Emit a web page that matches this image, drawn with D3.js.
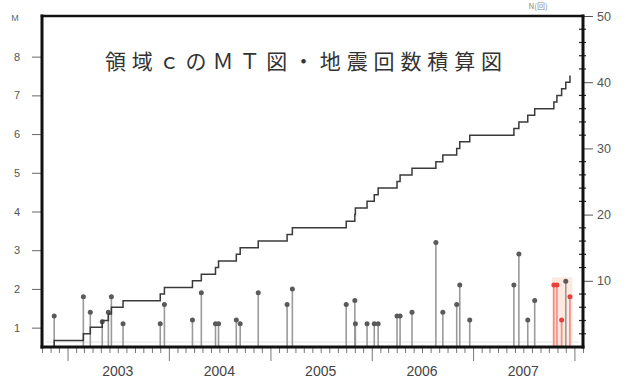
<!DOCTYPE html>
<html><head><meta charset="utf-8">
<script src="https://cdn.jsdelivr.net/npm/d3@7"></script>
<style>body{margin:0;background:#fff}svg{display:block}</style>
</head><body>
<svg id="c" width="626" height="384"></svg>
<script>
// ---- data ----
const eventDates = ["2002-11-14","2003-02-27","2003-03-24","2003-05-06","2003-05-28","2003-06-08","2003-07-20",
  "2003-12-01","2003-12-16","2004-03-26","2004-04-27","2004-06-17","2004-06-28","2004-08-31","2004-09-14",
  "2004-11-18","2005-03-02","2005-03-21","2005-10-01","2005-11-01","2005-11-03","2005-12-15","2006-01-10",
  "2006-01-24","2006-04-02","2006-04-13","2006-05-26","2006-08-20","2006-09-14","2006-11-03","2006-11-14",
  "2006-12-20","2007-05-28","2007-06-15","2007-07-17","2007-08-11","2007-10-19","2007-10-30","2007-11-16",
  "2007-12-01","2007-12-16"];
const magnitudes = [1.3,1.8,1.4,1.15,1.4,1.8,1.1,
  1.1,1.6,1.2,1.9,1.1,1.1,1.2,1.1,
  1.9,1.6,2.0,1.6,1.7,1.1,1.1,1.1,
  1.1,1.3,1.3,1.4,3.2,1.4,1.6,2.1,
  1.2,2.1,2.9,1.2,1.7,2.1,2.1,1.2,
  2.2,1.8];
const recentFlags = [0,0,0,0,0,0,0, 0,0,0,0,0,0,0,0, 0,0,0,0,0,0,0,0, 0,0,0,0,0,0,0,0,
  0,0,0,0,0,1,1,1, 0,1];
const magTicks = [1,2,3,4,5,6,7,8];
const countTicks = [10,20,30,40,50];
const yearLabels = ["2003","2004","2005","2006","2007"];
const titleText = "領域ｃのＭＴ図・地震回数積算図";
const highlightFrom = "2007-10-12";

// ---- layout ----
const L = 42, R = 583, T = 16, B = 347;
const svg = d3.select("#c");
const parse = d3.timeParse("%Y-%m-%d");
const x = d3.scaleTime().domain([new Date(2002,9,1), new Date(2008,1,1)]).range([L, R]);
const yM = d3.scaleLinear().domain([0.5, 9.05]).range([B, T]);
const yN = d3.scaleLinear().domain([0, 50]).range([B, T]);

const events = eventDates.map((d,i)=>({t:parse(d), m:magnitudes[i], n:i+1, red:recentFlags[i]===1}));

// highlight band
svg.append("rect").attr("x", x(parse(highlightFrom))).attr("y", yM(2.3))
  .attr("width", x(new Date(2007,11,25)) - x(parse(highlightFrom)))
  .attr("height", B - yM(2.3)).attr("fill", "#fde9df");

// faint base line
svg.append("line").attr("x1", L+4).attr("x2", R-4).attr("y1", B-5).attr("y2", B-5)
  .attr("stroke", "#e3e3e3").attr("stroke-width", 1);

// stems
const g = svg.append("g");
g.selectAll("line.stem").data(events).join("line").attr("class","stem")
  .attr("x1", d=>x(d.t)).attr("x2", d=>x(d.t))
  .attr("y1", B).attr("y2", d=>yM(d.m))
  .attr("stroke", d=>d.red ? "#f08a84" : "#9a9a9a").attr("stroke-width", 1.6);
g.selectAll("circle.dot").data(events).join("circle").attr("class","dot")
  .attr("cx", d=>x(d.t)).attr("cy", d=>yM(d.m)).attr("r", 2.5)
  .attr("fill", d=>d.red ? "#e8403a" : "#5a5a5a");

// cumulative step line
const stepPts = [{t:events[0].t, n:0}].concat(events.map(d=>({t:d.t, n:d.n})));
svg.append("path").datum(stepPts)
  .attr("d", d3.line().x(d=>x(d.t)).y(d=>yN(d.n)).curve(d3.curveStepAfter))
  .attr("fill","none").attr("stroke","#3a3a3a").attr("stroke-width",1.5);

// left axis
const gl = svg.append("g").attr("transform", `translate(${L-1},0)`);
gl.call(d3.axisLeft(yM).tickValues(magTicks).tickSize(9).tickPadding(12).tickFormat(d3.format("d")));
gl.select(".domain").remove();
gl.selectAll("line").attr("stroke","#666").attr("stroke-width",1);
gl.selectAll("text").attr("fill","#555").attr("font-size",11).attr("font-family","Liberation Sans, Arial, sans-serif");
svg.append("text").attr("x",15).attr("y",yM(9.0)+3).attr("text-anchor","middle")
  .attr("font-size",9).attr("fill","#666").attr("font-family","Liberation Sans, Arial, sans-serif").text("M");

// right axis
const gr = svg.append("g").attr("transform", `translate(${R+1},0)`);
gr.call(d3.axisRight(yN).tickValues(countTicks).tickSize(9).tickPadding(4).tickFormat(d3.format("d")));
gr.select(".domain").remove();
gr.selectAll("line").attr("stroke","#555").attr("stroke-width",1);
gr.selectAll("text").attr("fill","#555").attr("font-size",12.5).attr("font-family","Liberation Sans, Arial, sans-serif");
const minorN = d3.range(2, 50, 2).filter(v=>v%10!==0);
svg.append("g").selectAll("line").data(minorN).join("line")
  .attr("x1", R-4).attr("x2", R+3).attr("y1", d=>yN(d)).attr("y2", d=>yN(d))
  .attr("stroke","#222").attr("stroke-width",1.2);
svg.append("text").attr("x",538).attr("y",9).attr("text-anchor","middle")
  .attr("font-size",8).attr("fill","#888").attr("font-family","Noto Sans CJK JP, sans-serif").text("N(回)");

// bottom axis: monthly ticks, long at January
const months = d3.timeMonth.range(new Date(2002,9,1), new Date(2008,1,2));
const gb = svg.append("g").attr("transform", `translate(0,${B+1})`);
gb.call(d3.axisBottom(x).tickValues(months).tickSize(5).tickFormat(""));
gb.select(".domain").remove();
gb.selectAll(".tick line").attr("stroke","#777").attr("stroke-width",1)
  .attr("y2", d=>d.getMonth()===0 ? 13 : 5);
svg.append("g").selectAll("text").data(yearLabels).join("text")
  .attr("x", d=>x(new Date(+d,6,1))).attr("y", 376).attr("text-anchor","middle")
  .attr("font-size",14).attr("fill","#444").attr("font-family","Liberation Sans, Arial, sans-serif")
  .text(d=>d);

// frame
const fr = svg.append("g").attr("stroke","#111").attr("stroke-linecap","square");
fr.append("line").attr("x1",L).attr("x2",L).attr("y1",T).attr("y2",B).attr("stroke-width",3);
fr.append("line").attr("x1",R).attr("x2",R).attr("y1",T).attr("y2",B).attr("stroke-width",3);
fr.append("line").attr("x1",L).attr("x2",R).attr("y1",T).attr("y2",T).attr("stroke-width",2.5);
fr.append("line").attr("x1",L).attr("x2",R).attr("y1",B).attr("y2",B).attr("stroke-width",3);

// title
svg.append("text").attr("x",105).attr("y",69)
  .attr("font-size",21).attr("fill","#333")
  .attr("font-family","Noto Sans CJK JP, sans-serif")
  .attr("textLength",397).attr("lengthAdjust","spacing")
  .text(titleText);
</script>
</body></html>
